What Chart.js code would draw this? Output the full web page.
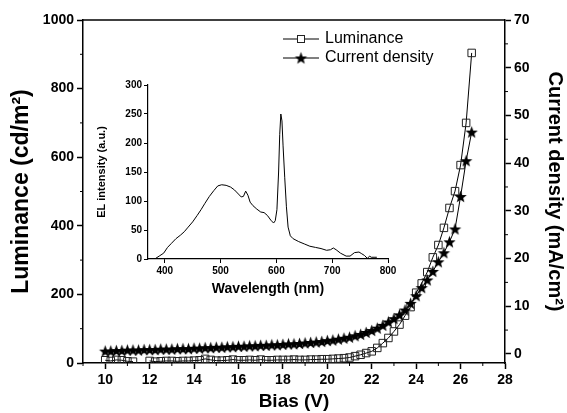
<!DOCTYPE html>
<html>
<head>
<meta charset="utf-8">
<script src="https://cdn.jsdelivr.net/npm/chart.js@4.4.1/dist/chart.umd.min.js"></script>
<style>
html,body{margin:0;padding:0;background:#fff;}
#wrap{position:relative;width:567px;height:413px;}
#main{position:absolute;left:0;top:0;}
#inset{position:absolute;left:95px;top:75px;}
</style>
</head>
<body>
<div id="wrap">
<canvas id="main" width="567" height="413"></canvas>
<canvas id="inset" width="305" height="225"></canvas>
</div>
<script>
// main chart data
var bias=[10,10.25,10.5,10.75,11,11.25,11.5,11.75,
  12,12.25,12.5,12.75,13,13.25,13.5,13.75,
  14,14.25,14.5,14.75,15,15.25,15.5,15.75,
  16,16.25,16.5,16.75,17,17.25,17.5,17.75,
  18,18.25,18.5,18.75,19,19.25,19.5,19.75,
  20,20.25,20.5,20.75,21,21.25,21.5,21.75,
  22,22.25,22.5,22.75,23,23.25,23.5,23.75,
  24,24.25,24.5,24.75,25,25.25,25.5,25.75,
  26,26.25,26.5];
var luminance=[8,6,9,8,5,4,null,null,
  6,4,5,6,6,5,6,6,
  7,8,12,9,7,7,8,10,
  8,8,9,8,10,8,8,9,
  9,9,10,9,9,10,10,11,
  11,12,13,14,16,20,24,29,
  34,44,58,73,92,112,138,163,
  205,232,265,308,344,394,452,501,
  577,700,904];
var currentDensity=[0.6,0.6,0.7,0.7,0.8,0.8,0.8,0.9,
  0.9,0.9,1.0,1.0,1.0,1.1,1.1,1.1,
  1.2,1.2,1.3,1.3,1.4,1.4,1.5,1.5,
  1.6,1.6,1.7,1.7,1.8,1.8,1.9,1.9,
  2.0,2.1,2.1,2.2,2.3,2.4,2.5,2.6,
  2.8,2.9,3.1,3.3,3.5,3.8,4.1,4.5,
  4.9,5.4,6.0,6.7,7.4,8.2,9.2,10.6,
  12.2,13.9,15.5,17.3,19.3,21.2,23.5,26.2,
  33.0,40.5,46.5];
var xTicks=[10,12,14,16,18,20,22,24,26,28];
var xMinor=[9,11,13,15,17,19,21,23,25,27];
var lumTicks=[0,200,400,600,800,1000];
var lumMinor=[100,300,500,700,900];
var curTicks=[0,10,20,30,40,50,60,70];
var curMinor=[5,15,25,35,45,55,65];

// inset data
var wavelength=[382,390,398,405,412,420,428,435,442,450,
  458,465,472,480,488,495,502,510,518,525,
  532,537,541,545,549,553,558,565,572,578,
  584,590,595,598,601,604,606,608,610,612,
  615,618,621,625,630,640,650,660,670,680,
  690,697,702,707,715,725,732,740,748,753,
  758,763,767,770,775,780];
var elIntensity=[0,5,10,20,27,35,41,47,55,64,
  75,85,96,108,118,126,128,127,124,119,
  112,107,108,117,110,98,92,86,81,80,
  75,67,62,66,85,150,215,250,238,195,
  140,90,55,40,35,30,26,22,20,18,
  15,16,19,16,10,5,5,11,12,9,
  6,1,5,3,3,3];
var wlTicks=[400,500,600,700,800];
var elTicks=[0,50,100,150,200,250,300];

var FONT="'Liberation Sans', Arial, sans-serif";

function makeStar(r){
  var c=document.createElement("canvas");
  var s=Math.ceil(r*2+2);
  c.width=s; c.height=s;
  var g=c.getContext("2d");
  g.translate(s/2,s/2+0.6);
  g.beginPath();
  for(var i=0;i<10;i++){
    var rad=(i%2===0)?r:r*0.42;
    var a=-Math.PI/2+i*Math.PI/5;
    g.lineTo(rad*Math.cos(a),rad*Math.sin(a));
  }
  g.closePath();
  g.fillStyle="#000";
  g.fill();
  return c;
}
var star=makeStar(6.5);

function setTicks(list){
  return function(s){ s.ticks=list.map(function(v){return {value:v};}); };
}
function plain(v){ return String(v); }
function pts(xs,ys){
  return xs.map(function(x,i){return {x:x,y:ys[i]};});
}

var frame={
  id:"frame",
  afterDraw:function(chart){
    var c=chart.ctx, a=chart.chartArea;
    var sx=chart.scales.x, sl=chart.scales.y, sr=chart.scales.y1;
    c.save();
    c.strokeStyle="#000";
    c.lineWidth=1.5;
    c.beginPath(); c.moveTo(a.left,a.top); c.lineTo(a.right,a.top); c.stroke();
    c.lineWidth=1;
    c.beginPath();
    xMinor.forEach(function(v){var p=sx.getPixelForValue(v); c.moveTo(p,a.bottom); c.lineTo(p,a.bottom+3);});
    lumMinor.forEach(function(v){var p=sl.getPixelForValue(v); c.moveTo(a.left,p); c.lineTo(a.left-3,p);});
    curMinor.forEach(function(v){var p=sr.getPixelForValue(v); c.moveTo(a.right,p); c.lineTo(a.right+3,p);});
    c.stroke();
    // legend
    c.lineWidth=1;
    c.beginPath(); c.moveTo(283,39); c.lineTo(319,39); c.moveTo(283,58); c.lineTo(319,58); c.stroke();
    c.fillStyle="#fff";
    c.fillRect(297.5,35.5,7,7);
    c.strokeStyle="#222";
    c.strokeRect(297.5,35.5,7,7);
    c.drawImage(star,301-star.width/2,58-star.height/2);
    c.fillStyle="#000";
    c.font="16px "+FONT;
    c.textBaseline="middle";
    c.fillText("Luminance",325,39);
    c.fillText("Current density",325,58);
    c.restore();
  }
};

var tickFont={family:FONT,size:14,weight:"bold"};
var gridOpt={drawOnChartArea:false,tickLength:6,tickColor:"#000",tickWidth:1.5};
var borderOpt={color:"#000",width:1.5};

new Chart(document.getElementById("main").getContext("2d"),{
  type:"line",
  data:{datasets:[
    {label:"Luminance",data:pts(bias,luminance),yAxisID:"y",order:1,
     borderColor:"#000",borderWidth:1,tension:0,spanGaps:false,
     pointStyle:"rect",pointRadius:5.3,pointBorderColor:"#222",pointBorderWidth:1,
     pointBackgroundColor:"rgba(0,0,0,0)"},
    {label:"Current density",data:pts(bias,currentDensity),yAxisID:"y1",order:0,
     borderColor:"#000",borderWidth:1,tension:0,
     pointStyle:star,pointRadius:6}
  ]},
  options:{
    responsive:false,animation:false,devicePixelRatio:1,
    layout:{padding:{top:20,left:0,right:0,bottom:0}},
    plugins:{legend:{display:false},tooltip:{enabled:false}},
    scales:{
      x:{type:"linear",min:9,max:28,position:"bottom",
        afterBuildTicks:setTicks(xTicks),
        afterFit:function(s){s.height=50;},
        grid:gridOpt,border:borderOpt,
        ticks:{color:"#000",font:tickFont,padding:3,maxRotation:0,autoSkip:false,callback:plain},
        title:{display:true,text:"Bias (V)",color:"#000",font:{family:FONT,size:19,weight:"bold"},padding:{top:0,bottom:0}}},
      y:{type:"linear",position:"left",min:0,max:1000,
        afterBuildTicks:setTicks(lumTicks),
        afterFit:function(s){s.width=83;},
        grid:gridOpt,border:borderOpt,
        ticks:{color:"#000",font:tickFont,padding:3,callback:plain},
        title:{display:true,text:"Luminance (cd/m²)",color:"#000",font:{family:FONT,size:23,weight:"bold"},padding:{top:8,bottom:0}}},
      y1:{type:"linear",position:"right",min:-1.9,max:70,
        afterBuildTicks:setTicks(curTicks),
        afterFit:function(s){s.width=62;},
        grid:gridOpt,border:borderOpt,
        ticks:{color:"#000",font:tickFont,padding:3,callback:plain},
        title:{display:true,text:"Current density (mA/cm²)",color:"#000",font:{family:FONT,size:20,weight:"bold"},padding:{top:0,bottom:0}}}
    }
  },
  plugins:[frame]
});

var smallFont={family:FONT,size:10,weight:"bold"};
new Chart(document.getElementById("inset").getContext("2d"),{
  type:"line",
  data:{datasets:[
    {label:"EL",data:pts(wavelength,elIntensity),borderColor:"#000",borderWidth:1,pointRadius:0,tension:0}
  ]},
  options:{
    responsive:false,animation:false,devicePixelRatio:1,
    layout:{padding:{top:10,right:12,left:0,bottom:0}},
    plugins:{legend:{display:false},tooltip:{enabled:false}},
    scales:{
      x:{type:"linear",min:370,max:800,
        afterBuildTicks:setTicks(wlTicks),
        afterFit:function(s){s.height=41;},
        grid:{drawOnChartArea:false,tickLength:4,tickColor:"#000"},
        border:{color:"#000",width:1.2},
        ticks:{color:"#000",font:smallFont,padding:2,maxRotation:0,callback:plain},
        title:{display:true,text:"Wavelength (nm)",color:"#000",font:{family:FONT,size:14,weight:"bold"},padding:{top:0,bottom:2}}},
      y:{type:"linear",min:0,max:300,
        afterBuildTicks:setTicks(elTicks),
        afterFit:function(s){s.width=53;},
        grid:{drawOnChartArea:false,tickLength:4,tickColor:"#000"},
        border:{color:"#000",width:1.2},
        ticks:{color:"#000",font:smallFont,padding:2,callback:plain},
        title:{display:true,text:"EL intensity (a.u.)",color:"#000",font:{family:FONT,size:11,weight:"bold"},padding:{top:0,bottom:0}}}
    }
  }
});
</script>
</body>
</html>
